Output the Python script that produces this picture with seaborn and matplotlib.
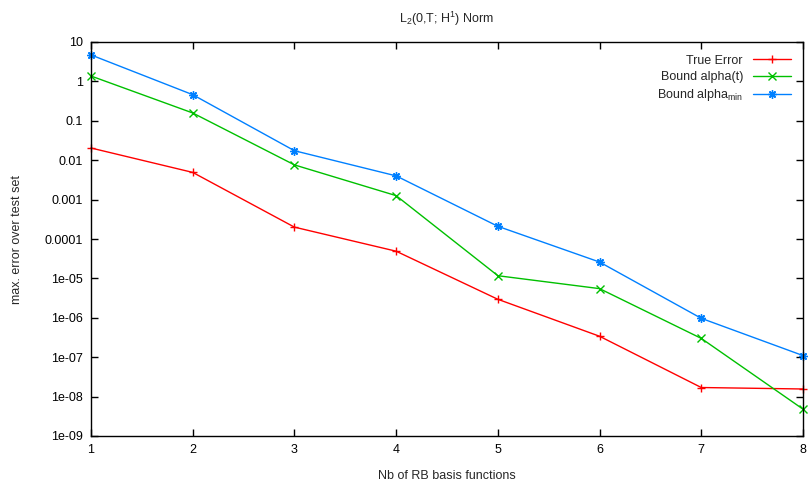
import matplotlib
matplotlib.use("Agg")
import matplotlib.pyplot as plt
import seaborn as sns
import pandas as pd
from matplotlib.ticker import FixedLocator, FixedFormatter, NullLocator

# Data
n_basis = [1, 2, 3, 4, 5, 6, 7, 8]
true_error = [0.0204, 0.0049, 2.0e-4, 4.9e-5, 2.95e-6, 3.4e-7, 1.7e-8, 1.56e-8]
bound_alpha_t = [1.37, 0.158, 0.0076, 0.00126, 1.17e-5, 5.5e-6, 3.0e-7, 4.8e-9]
bound_alpha_min = [4.7, 0.46, 0.0174, 0.004, 2.1e-4, 2.6e-5, 9.7e-7, 1.1e-7]
series_names = ["True Error", "Bound alpha(t)", r"Bound alpha$_{\mathrm{min}}$"]
ytick_values = [10, 1, 0.1, 0.01, 0.001, 0.0001, 1e-5, 1e-6, 1e-7, 1e-8, 1e-9]
ytick_labels = ["10", "1", "0.1", "0.01", "0.001", "0.0001", "1e-05", "1e-06",
                "1e-07", "1e-08", "1e-09"]

df = pd.DataFrame({
    "n": n_basis * 3,
    "err": true_error + bound_alpha_t + bound_alpha_min,
    "series": [series_names[0]] * 8 + [series_names[1]] * 8 + [series_names[2]] * 8,
})

sns.set_style("ticks")
plt.rcParams["font.family"] = ["Liberation Sans", "DejaVu Sans"]
plt.rcParams["mathtext.fontset"] = "custom"
plt.rcParams["mathtext.rm"] = "Liberation Sans"
plt.rcParams["mathtext.it"] = "Liberation Sans:italic"
plt.rcParams["mathtext.bf"] = "Liberation Sans:bold"

fig = plt.figure(figsize=(8.1, 4.82), dpi=100)
ax = fig.add_axes([91 / 810, 1 - 436 / 482, (803 - 91) / 810, (436 - 42) / 482])

palette = {series_names[0]: "#ff0000", series_names[1]: "#00c000", series_names[2]: "#0080ff"}
markers = {series_names[0]: "+", series_names[1]: "x", series_names[2]: (8, 2, 0)}
sns.lineplot(data=df, x="n", y="err", hue="series", style="series",
             palette=palette, markers=markers, dashes=False, linewidth=1,
             markersize=6, markeredgewidth=1, ax=ax)
for line in ax.get_lines():
    line.set_markeredgecolor(line.get_color())
    line.set_clip_on(False)

ax.set_yscale("log")
ax.set_xlim(1, 8)
ax.set_ylim(1e-9, 10)
ax.set_xticks(n_basis)
ax.yaxis.set_major_locator(FixedLocator(ytick_values))
ax.yaxis.set_major_formatter(FixedFormatter(ytick_labels))
ax.yaxis.set_minor_locator(NullLocator())
ax.tick_params(direction="in", length=5, width=1, top=True, right=True,
               labelsize=9, colors="black", pad=6)
for s in ax.spines.values():
    s.set_visible(True)
    s.set_linewidth(1)
    s.set_color("black")

ax.set_xlabel("Nb of RB basis functions", fontsize=9, labelpad=10)
ax.set_ylabel("max. error over test set", fontsize=9, labelpad=15)
ax.set_title(r"L$_2$(0,T; H$^1$) Norm", fontsize=9, pad=14)

leg = ax.legend(loc="upper right", frameon=False, markerfirst=False, fontsize=9,
                handlelength=3, labelspacing=0.35, borderaxespad=0.6,
                handletextpad=0.8)
for h in leg.legend_handles:
    h.set_markeredgecolor(h.get_color())
for t in leg.get_texts():
    t.set_ha("right")
leg._legend_box.align = "right"

fig.savefig("out.png", dpi=100)
